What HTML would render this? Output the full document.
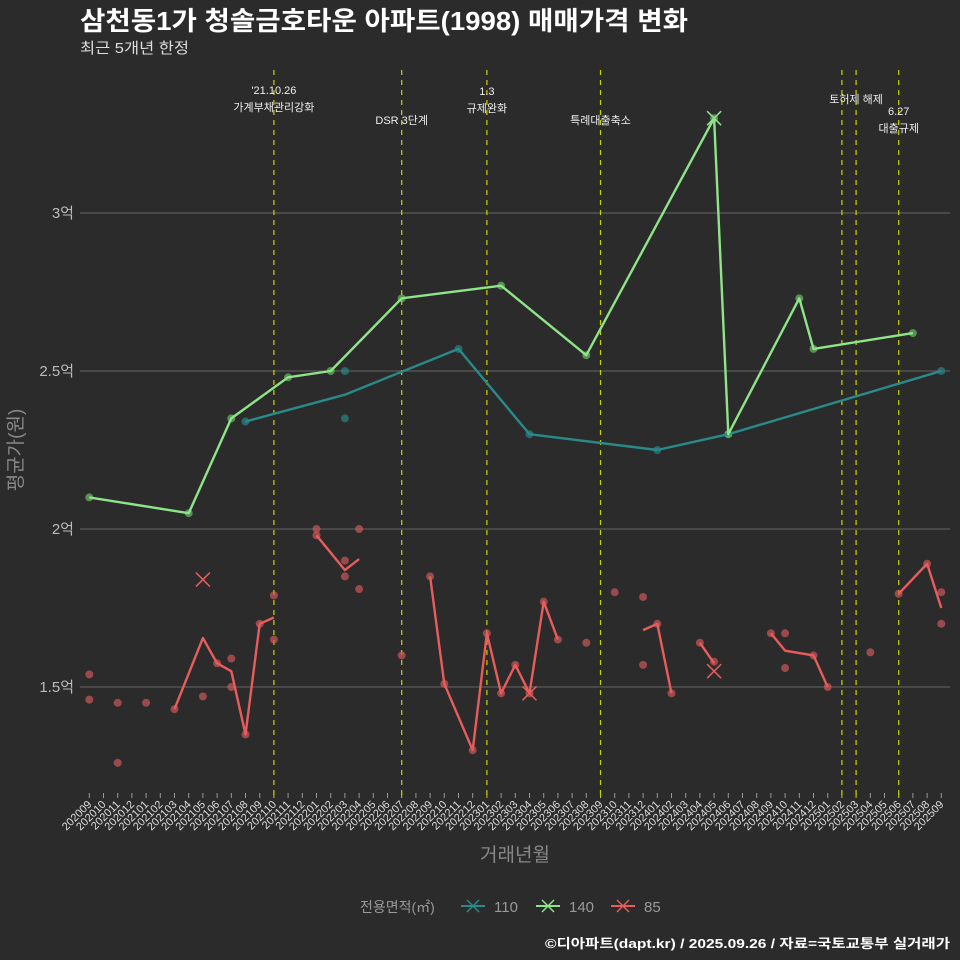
<!DOCTYPE html>
<html><head><meta charset="utf-8">
<style>
body{margin:0;background:#2b2b2b;}
svg{display:block;font-family:"Liberation Sans","Noto Sans CJK KR",sans-serif;}
</style></head>
<body>
<svg id="chart" width="960" height="960" viewBox="0 0 960 960">
<rect width="960" height="960" fill="#2b2b2b"/>
<text x="80" y="30" fill="#ffffff" font-size="26" font-weight="bold" textLength="608" lengthAdjust="spacingAndGlyphs">삼천동1가 청솔금호타운 아파트(1998) 매매가격 변화</text>
<text x="80" y="53" fill="#dddddd" font-size="15" textLength="109" lengthAdjust="spacingAndGlyphs">최근 5개년 한정</text>
<g id="grid"></g><g id="events"></g><g id="series"></g><g id="xaxis"></g>
<text transform="translate(22,450) rotate(-90)" text-anchor="middle" fill="#888" font-size="19">평균가(원)</text>
<text x="515" y="861" text-anchor="middle" fill="#888" font-size="19">거래년월</text>
<g>
<text x="360" y="912" fill="#999" font-size="14">전용면적(㎡)</text>
<g><line x1="461" y1="906" x2="485" y2="906" stroke="#2a8a8a" stroke-width="2"/><path d="M467,900 L479,912 M479,900 L467,912" stroke="#2a8a8a" stroke-width="1.5"/><text x="494" y="912" fill="#999" font-size="15">110</text></g>
<g><line x1="536" y1="906" x2="560" y2="906" stroke="#8fe388" stroke-width="2"/><path d="M542,900 L554,912 M554,900 L542,912" stroke="#8fe388" stroke-width="1.5"/><text x="569" y="912" fill="#999" font-size="15">140</text></g>
<g><line x1="611" y1="906" x2="635" y2="906" stroke="#e85c5c" stroke-width="2"/><path d="M617,900 L629,912 M629,900 L617,912" stroke="#e85c5c" stroke-width="1.5"/><text x="644" y="912" fill="#999" font-size="15">85</text></g>
</g>
<text x="950" y="948" text-anchor="end" fill="#ffffff" font-size="13" font-weight="bold" textLength="405" lengthAdjust="spacingAndGlyphs">©디아파트(dapt.kr) / 2025.09.26 / 자료=국토교통부 실거래가</text>
</svg>
<script>
const months=[];for(let y=2020,m=9;y<2025||(y===2025&&m<=9);){months.push(''+y+(m<10?'0':'')+m);m++;if(m>12){m=1;y++;}}
const yTicks=[1.5,2,2.5,3];
const yTickLabels=['1.5억','2억','2.5억','3억'];
const eventMonths=['202110','202207','202301','202309','202502','202503','202506'];
const eventLabels=[["'21.10.26","가계부채관리강화"],["DSR 3단계"],["1.3","규제완화"],["특례대출축소"],[],["토허제 해제"],["6.27","대출규제"]];
const eventLabelY=[94,124,95,124,0,103,115];
const lineMonths140=['202009','202104','202107','202111','202202','202207','202302','202308','202405','202406','202411','202412','202507'];
const lineVals140=[2.1,2.05,2.35,2.48,2.5,2.73,2.77,2.55,3.3,2.3,2.73,2.57,2.62];
const lineMonths110=['202108','202203','202211','202304','202401','202406','202509'];
const lineVals110=[2.34,2.425,2.57,2.3,2.25,2.3,2.5];
const dotMonths110=['202108','202203','202203','202211','202304','202401','202406','202509'];
const dotVals110=[2.34,2.5,2.35,2.57,2.3,2.25,2.3,2.5];
const lineMonths85=['202103','202105','202106','202107','202108','202109','202110',null,'202201','202203','202204',null,'202209','202210','202212','202301','202302','202303','202304','202305','202306',null,'202312','202401','202402',null,'202404','202405',null,'202409','202410','202412','202501',null,'202506','202508','202509'];
const lineVals85=[1.43,1.655,1.575,1.55,1.35,1.70,1.72,null,1.98,1.87,1.905,null,1.85,1.51,1.30,1.67,1.48,1.57,1.48,1.77,1.65,null,1.68,1.70,1.48,null,1.64,1.575,null,1.67,1.615,1.60,1.50,null,1.795,1.89,1.75];
const dotMonths85=['202009','202009','202011','202011','202101','202103','202105','202106','202107','202107','202108','202109','202110','202110','202201','202201','202203','202203','202204','202204','202207','202209','202210','202212','202301','202302','202303','202304','202305','202306','202308','202310','202312','202312','202401','202402','202404','202405','202409','202410','202410','202412','202501','202504','202506','202508','202509','202509'];
const dotVals85=[1.54,1.46,1.45,1.26,1.45,1.43,1.47,1.575,1.59,1.50,1.35,1.70,1.79,1.65,2.0,1.98,1.90,1.85,2.0,1.81,1.60,1.85,1.51,1.30,1.67,1.48,1.57,1.48,1.77,1.65,1.64,1.80,1.785,1.57,1.70,1.48,1.64,1.58,1.67,1.67,1.56,1.60,1.50,1.61,1.795,1.89,1.80,1.70];
const dotMonths140=lineMonths140, dotVals140=lineVals140;
const xMarkMonths=['202405','202105','202304','202405'];
const xMarkVals=[3.3,1.84,1.48,1.55];
const xMarkSeries=['140','85','85','85'];

const NS='http://www.w3.org/2000/svg';
const X=m=>89.3+14.2*months.indexOf(m);
const Y=v=>687-(v-1.5)*316;
function mk(tag,attrs,parent){const e=document.createElementNS(NS,tag);for(const k in attrs)e.setAttribute(k,attrs[k]);parent.appendChild(e);return e;}
const grid=document.getElementById('grid'),ev=document.getElementById('events'),ser=document.getElementById('series'),xa=document.getElementById('xaxis');
yTicks.forEach((t,i)=>{
 const l=mk('line',{x1:80,x2:950,y1:Y(t),y2:Y(t),stroke:'#5a5a5a','stroke-width':1.2},grid);
 
 
 const tx=mk('text',{x:74,y:Y(t)+5,'text-anchor':'end',fill:'#bbb','font-size':15},grid);tx.textContent=yTickLabels[i];
 
 
});
eventMonths.forEach((m,i)=>{
 const l=mk('line',{x1:X(m),x2:X(m),y1:70,y2:800,stroke:'#c8d400','stroke-width':1.2,'stroke-dasharray':'5,5'},ev);
 
 
 eventLabels[i].forEach((s,j)=>{
  const t=mk('text',{x:X(m),y:eventLabelY[i]+j*17,'text-anchor':'middle',fill:'#eee','font-size':11},ev);t.textContent=s;
  
  
 });
});
function drawLine(ms,vs,color,name){
 let d='',pen=false;
 ms.forEach((m,i)=>{if(m===null){pen=false;return;}d+=(pen?'L':'M')+X(m)+','+Y(vs[i]);pen=true;});
 const p=mk('path',{d:d,fill:'none',stroke:color,'stroke-width':2.4,'stroke-linejoin':'round'},ser);
 
 
}
function drawDots(ms,vs,color,name){
 ms.forEach((m,i)=>{
  const c=mk('circle',{cx:X(m),cy:Y(vs[i]),r:4,fill:color,'fill-opacity':0.65},ser);
  
  
 });
}
const col={'110':'#2a8a8a','140':'#8fe388','85':'#e85c5c'};
drawDots(dotMonths110,dotVals110,col['110'],'dot-110');
drawDots(dotMonths140,dotVals140,'#6fc56a','dot-140');
drawDots(dotMonths85,dotVals85,'#d65a5a','dot-85');
drawLine(lineMonths110,lineVals110,col['110'],'line-110');
drawLine(lineMonths140,lineVals140,col['140'],'line-140');
drawLine(lineMonths85,lineVals85,col['85'],'line-85');
xMarkMonths.forEach((m,i)=>{
 const x=X(m),y=Y(xMarkVals[i]);
 const p=mk('path',{d:`M${x-7},${y-7}L${x+7},${y+7}M${x+7},${y-7}L${x-7},${y+7}`,stroke:col[xMarkSeries[i]],'stroke-width':1.5},ser);
 
 
});
months.forEach(m=>{
 const x=X(m);
 const isEv=eventMonths.includes(m);
 const tk=mk('line',{x1:x,x2:x,y1:793,y2:798,stroke:isEv?'#c8d400':'#999','stroke-width':1},xa);
 
 
 const t=mk('text',{transform:`translate(${x+3},${805}) rotate(-45)`,'text-anchor':'end',fill:'#ddd','font-size':11},xa);t.textContent=m;
 
 
});
</script>
</body></html>
